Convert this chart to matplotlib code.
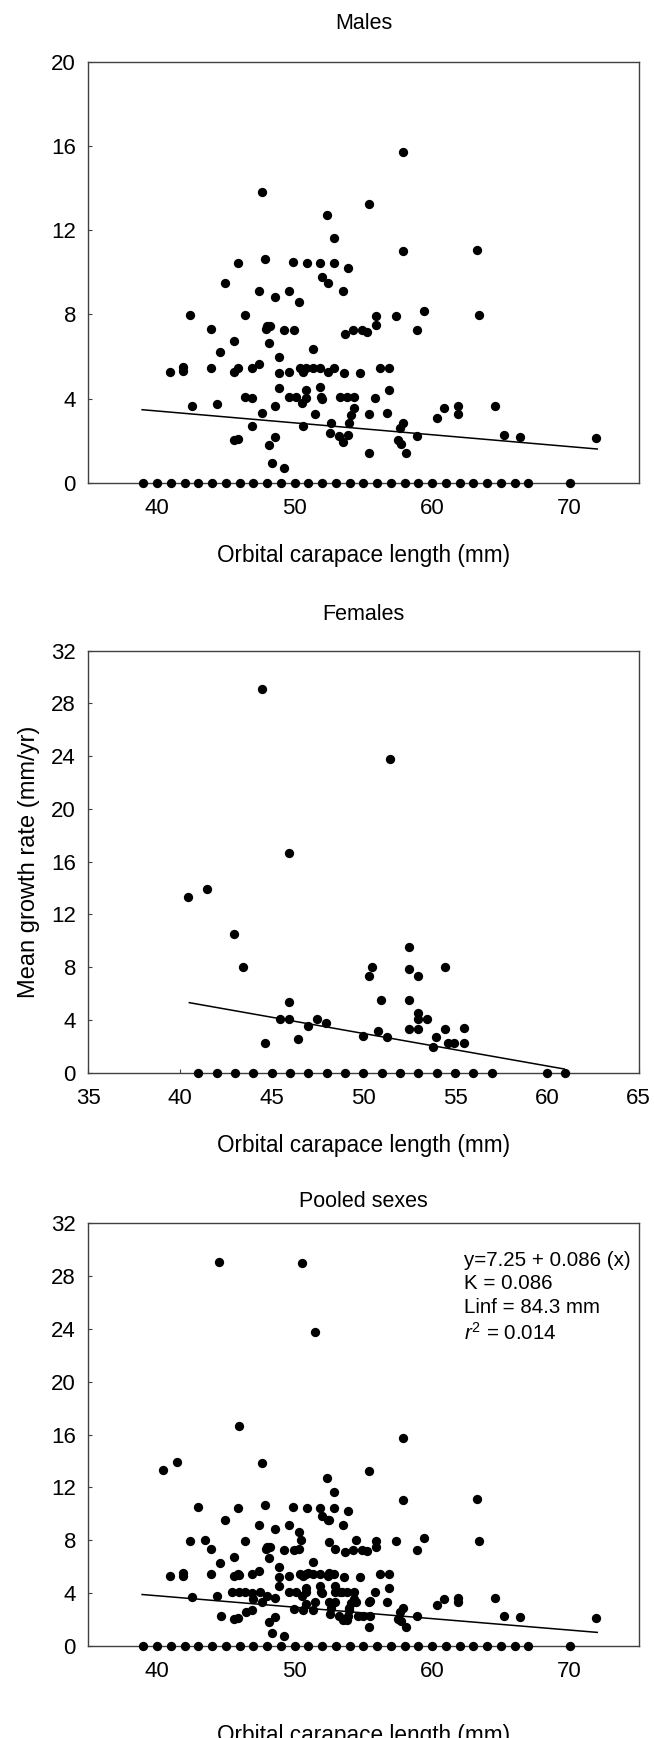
import matplotlib
matplotlib.use('Agg')
import matplotlib.pyplot as plt

plt.rcParams['font.family'] = ['Liberation Sans', 'DejaVu Sans']
plt.rcParams['mathtext.fontset'] = 'custom'
plt.rcParams['mathtext.rm'] = 'Liberation Sans'
plt.rcParams['mathtext.it'] = 'Liberation Sans:italic'

# ---- males (growth > 0) ----
male_x = [40.9, 41.9, 41.9, 42.4, 42.55, 43.9, 43.9, 44.35, 44.55, 44.9,
          45.55, 45.6, 45.9, 45.6, 45.86, 45.86, 46.4, 46.4, 46.88, 46.88,
          46.88, 47.4, 47.4, 47.63, 47.63, 47.87, 47.9, 47.95, 48.2, 48.11,
          48.11, 48.38, 48.55, 48.55, 48.53, 48.89, 48.89, 48.89, 49.2, 49.2,
          49.55, 49.6, 49.6, 49.9, 49.96, 50.09, 50.3, 50.4, 50.6, 50.82,
          50.55, 50.85, 50.85, 50.6, 50.87, 51.36, 51.36, 51.49, 51.85, 51.87,
          51.9, 52.0, 51.87, 51.99, 52.4, 52.38, 52.4, 52.53, 52.65, 52.89,
          52.89, 52.89, 53.28, 53.2, 53.5, 53.54, 53.55, 53.62, 53.83, 53.86,
          53.88, 53.93, 54.12, 54.22, 54.31, 54.31, 54.76, 54.9, 55.26, 55.38,
          55.38, 55.38, 55.86, 55.9, 55.9, 56.21, 56.69, 56.89, 56.89, 57.37,
          57.51, 57.63, 57.76, 57.87, 58.07, 57.9, 57.9, 58.87, 58.87, 59.38,
          60.35, 60.89, 61.9, 61.9, 63.28, 63.39, 64.57, 65.22, 66.38, 71.88]
male_y = [5.27, 5.3, 5.5, 7.96, 3.66, 7.3, 5.45, 3.73, 6.23, 9.5,
          6.75, 2.02, 2.08, 5.28, 5.44, 10.47, 7.96, 4.06, 4.01, 5.43,
          2.68, 9.12, 5.64, 13.84, 3.32, 10.63, 7.33, 7.47, 7.47, 6.63,
          1.77, 0.95, 8.82, 3.65, 2.16, 5.98, 5.23, 4.49, 7.28, 0.71,
          9.12, 5.26, 4.08, 10.51, 7.28, 4.08, 8.6, 5.43, 5.27, 5.43,
          3.78, 4.05, 4.4, 2.7, 10.47, 6.36, 5.43, 3.28, 5.43, 4.54,
          4.08, 3.98, 10.47, 9.8, 9.49, 12.73, 5.27, 2.38, 2.83, 11.63,
          10.47, 5.44, 4.06, 2.22, 1.95, 9.12, 5.22, 7.09, 4.06, 2.27,
          10.21, 2.83, 3.22, 7.27, 3.54, 4.06, 5.22, 7.27, 7.15, 13.26,
          3.28, 1.43, 4.04, 7.95, 7.48, 5.43, 3.33, 5.43, 4.39, 7.95,
          2.03, 2.59, 1.84, 2.85, 1.43, 15.72, 11.01, 7.28, 2.22, 8.17,
          3.09, 3.54, 3.65, 3.28, 11.09, 7.96, 3.65, 2.27, 2.19, 2.13]
male_zero_x = [39, 40, 41, 42, 43, 44, 45, 46, 47, 48, 49, 50, 51, 52, 53,
               54, 55, 56, 57, 58, 59, 60, 61, 62, 63, 64, 65, 66, 67, 70]
male_line_x = [38.9, 72.0]
male_line_y = [3.47, 1.60]

# ---- females ----
female_x = [40.44, 41.44, 44.47, 42.94, 43.45, 45.95, 44.63, 45.47, 45.95, 45.95,
            46.45, 46.95, 47.45, 47.95, 49.96, 50.3, 50.46, 50.8, 50.96, 51.3,
            51.46, 52.48, 52.48, 52.48, 52.48, 52.96, 52.96, 52.96, 52.96, 53.46,
            53.8, 53.96, 54.46, 54.46, 54.62, 54.96, 55.46, 55.46]
female_y = [13.3, 13.9, 29.07, 10.48, 8.0, 16.66, 2.22, 4.1, 4.1, 5.39,
            2.53, 3.51, 4.1, 3.79, 2.75, 7.3, 8.0, 3.15, 5.48, 2.72,
            23.76, 9.52, 7.89, 5.53, 3.34, 7.3, 4.49, 4.07, 3.34, 4.07,
            1.94, 2.72, 8.0, 3.34, 2.22, 2.22, 3.4, 2.22]
female_zero_x = [41, 42, 43, 44, 45, 46, 47, 48, 49, 50, 51, 52, 53, 54, 55,
                 56, 57, 60, 61]
female_line_x = [40.5, 60.95]
female_line_y = [5.31, 0.28]

# ---- pooled: males + females + one extra fish ----
pooled_extra_x = [50.5]
pooled_extra_y = [29.0]
pooled_line_x = [38.9, 72.0]
pooled_line_y = [3.88, 1.01]

fig = plt.figure(figsize=(6.54, 17.38), dpi=100)

L, W = 0.1353, 0.841
ax1 = fig.add_axes([L, 0.7223, W, 0.2419])
ax2 = fig.add_axes([L, 0.3828, W, 0.2428])
ax3 = fig.add_axes([L, 0.0531, W, 0.2430])

spine_col = '#404040'
ms = 6.7


def style(ax):
    for s in ['top', 'right', 'bottom', 'left']:
        ax.spines[s].set_color(spine_col)
        ax.spines[s].set_linewidth(1.0)
    ax.tick_params(direction='in', length=3, width=0.8, color=spine_col,
                   labelsize=16, top=False, right=False)
    ax.tick_params(axis='x', pad=11)
    ax.tick_params(axis='y', pad=9)


def dots(ax, x, y):
    ax.plot(x, y, 'o', color='black', ms=ms, mew=0, clip_on=False, zorder=3)


# Males
dots(ax1, male_x, male_y)
dots(ax1, male_zero_x, [0] * len(male_zero_x))
ax1.plot(male_line_x, male_line_y, color='black', lw=1.1)
ax1.set_xlim(35, 75)
ax1.set_ylim(0, 20)
ax1.set_xticks([40, 50, 60, 70])
ax1.set_yticks([0, 4, 8, 12, 16, 20])
ax1.set_title('Males', fontsize=15.5, pad=24)
ax1.set_xlabel('Orbital carapace length (mm)', fontsize=16.3, labelpad=18)
style(ax1)

# Females
dots(ax2, female_x, female_y)
dots(ax2, female_zero_x, [0] * len(female_zero_x))
ax2.plot(female_line_x, female_line_y, color='black', lw=1.1)
ax2.set_xlim(35, 65)
ax2.set_ylim(0, 32)
ax2.set_xticks([35, 40, 45, 50, 55, 60, 65])
ax2.set_yticks([0, 4, 8, 12, 16, 20, 24, 28, 32])
ax2.set_title('Females', fontsize=15.5, pad=22)
ax2.set_xlabel('Orbital carapace length (mm)', fontsize=16.3, labelpad=18)
ax2.set_ylabel('Mean growth rate (mm/yr)', fontsize=17, labelpad=8)
style(ax2)

# Pooled sexes
dots(ax3, male_x + female_x + pooled_extra_x, male_y + female_y + pooled_extra_y)
dots(ax3, male_zero_x, [0] * len(male_zero_x))
ax3.plot(pooled_line_x, pooled_line_y, color='black', lw=1.1)
ax3.set_xlim(35, 75)
ax3.set_ylim(0, 32)
ax3.set_xticks([40, 50, 60, 70])
ax3.set_yticks([0, 4, 8, 12, 16, 20, 24, 28, 32])
ax3.set_title('Pooled sexes', fontsize=15.5, pad=12)
ax3.set_xlabel('Orbital carapace length (mm)', fontsize=16.3, labelpad=30)
ax3.text(0.683, 0.935, 'y=7.25 + 0.086 (x)\nK = 0.086\nLinf = 84.3 mm\n$\\mathit{r}^2$ = 0.014',
         transform=ax3.transAxes, fontsize=14.8, va='top', ha='left',
         linespacing=1.3)
style(ax3)

fig.savefig('out.png', dpi=100)
